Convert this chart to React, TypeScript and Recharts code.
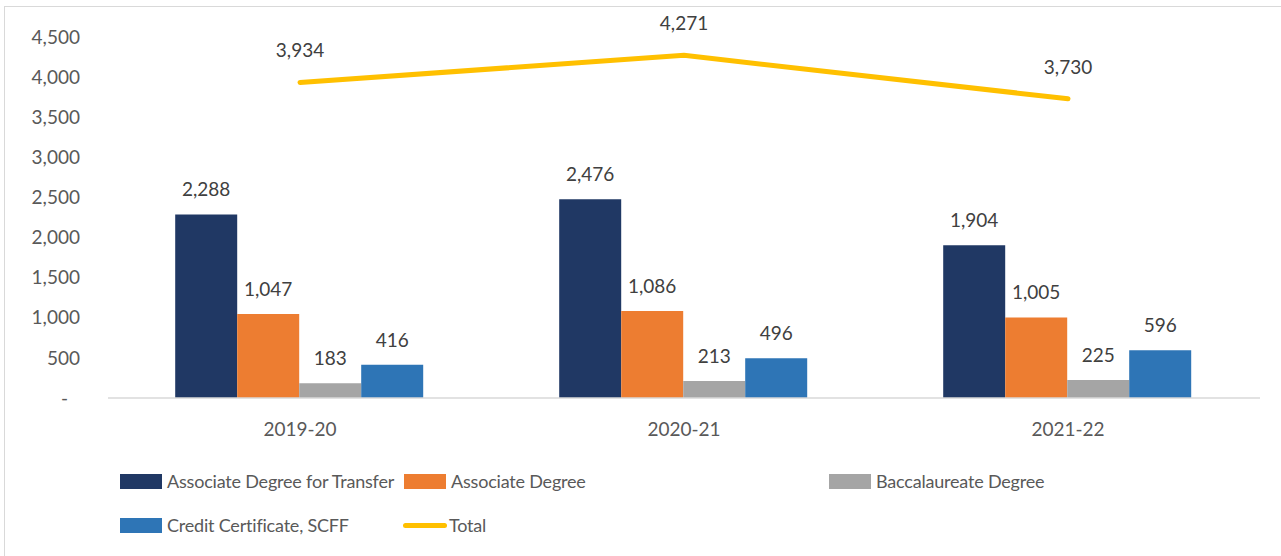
import React from 'react';
import { ComposedChart, Bar, Line, XAxis, YAxis, LabelList } from 'recharts';

const years = ['2019-20', '2020-21', '2021-22'];
const adtValues = [2288, 2476, 1904];
const assocValues = [1047, 1086, 1005];
const baccValues = [183, 213, 225];
const creditValues = [416, 496, 596];
const totalValues = [3934, 4271, 3730];
const yTicks = [0, 500, 1000, 1500, 2000, 2500, 3000, 3500, 4000, 4500];

const data = years.map((year, i) => ({
  year,
  adt: adtValues[i],
  assoc: assocValues[i],
  bacc: baccValues[i],
  credit: creditValues[i],
  total: totalValues[i],
}));

const FONT = 'Lato, "Open Sans", sans-serif';
const TEXT = '#595959';
const LABEL = '#404040';

const fmt = (v: number) => v.toLocaleString('en-US');

// Excel accounting format: zero shows as a dash, shifted left
const YTick = (props: any) => {
  const { x, y, payload } = props;
  const zero = payload.value === 0;
  return (
    <text x={zero ? x - 12 : x} y={y} dy="0.35em" textAnchor="end" fill={TEXT} fontSize={19} fontFamily={FONT}>
      {zero ? '-' : fmt(payload.value)}
    </text>
  );
};

const legendItems = [
  { name: 'Associate Degree for Transfer', color: '#203864', type: 'rect', x: 120, y: 481 },
  { name: 'Associate Degree', color: '#ED7D31', type: 'rect', x: 404, y: 481 },
  { name: 'Baccalaureate Degree', color: '#A5A5A5', type: 'rect', x: 829, y: 481 },
  { name: 'Credit Certificate, SCFF', color: '#2E75B6', type: 'rect', x: 120, y: 525 },
  { name: 'Total', color: '#FFC000', type: 'line', x: 403, y: 525 },
];

export default function App() {
  return (
    <div style={{ position: 'absolute', left: 0, top: 0, width: 1281, height: 556, background: '#fff', overflow: 'hidden', fontFamily: FONT }}>
      <div style={{ position: 'absolute', left: 4, top: 6, width: 1300, height: 600, border: '1px solid #d9d9d9' }} />
      <ComposedChart
        width={1281}
        height={556}
        data={data}
        margin={{ top: 37, right: 21, bottom: 118, left: 8 }}
        barCategoryGap="17.5%"
        barGap={0}
        style={{ position: 'absolute', left: 0, top: 0 }}
      >
        <XAxis
          dataKey="year"
          axisLine={{ stroke: '#d9d9d9', strokeWidth: 1.5 }}
          tickLine={false}
          tickSize={0}
          tickMargin={25}
          height={40}
          tick={{ fill: TEXT, fontSize: 19, fontFamily: FONT }}
        />
        <YAxis
          domain={[0, 4500]}
          ticks={yTicks}
          axisLine={false}
          tickLine={false}
          tickSize={0}
          tickMargin={28}
          width={100}
          tick={<YTick />}
        />
        <Bar dataKey="adt" fill="#203864" isAnimationActive={false}>
          <LabelList dataKey="adt" position="top" offset={18} formatter={(v: any) => fmt(v)} fill={LABEL} fontSize={19} fontFamily={FONT} />
        </Bar>
        <Bar dataKey="assoc" fill="#ED7D31" isAnimationActive={false}>
          <LabelList dataKey="assoc" position="top" offset={18} formatter={(v: any) => fmt(v)} fill={LABEL} fontSize={19} fontFamily={FONT} />
        </Bar>
        <Bar dataKey="bacc" fill="#A5A5A5" isAnimationActive={false}>
          <LabelList dataKey="bacc" position="top" offset={18} formatter={(v: any) => fmt(v)} fill={LABEL} fontSize={19} fontFamily={FONT} />
        </Bar>
        <Bar dataKey="credit" fill="#2E75B6" isAnimationActive={false}>
          <LabelList dataKey="credit" position="top" offset={18} formatter={(v: any) => fmt(v)} fill={LABEL} fontSize={19} fontFamily={FONT} />
        </Bar>
        <Line
          dataKey="total"
          stroke="#FFC000"
          strokeWidth={5}
          strokeLinecap="round"
          dot={false}
          activeDot={false}
          isAnimationActive={false}
        >
          <LabelList dataKey="total" position="top" offset={25} formatter={(v: any) => fmt(v)} fill={LABEL} fontSize={19} fontFamily={FONT} />
        </Line>
      </ComposedChart>
      {legendItems.map((item) => (
        <div key={item.name} style={{ position: 'absolute', left: item.x, top: item.y - 12, height: 24, display: 'flex', alignItems: 'center', whiteSpace: 'nowrap' }}>
          {item.type === 'rect' ? (
            <span style={{ display: 'inline-block', width: 42, height: 15, background: item.color }} />
          ) : (
            <span style={{ display: 'inline-block', width: 44, height: 5, borderRadius: 3, background: item.color }} />
          )}
          <span style={{ marginLeft: item.type === 'rect' ? 5 : 2, fontSize: 18, letterSpacing: -0.2, color: TEXT }}>{item.name}</span>
        </div>
      ))}
    </div>
  );
}
